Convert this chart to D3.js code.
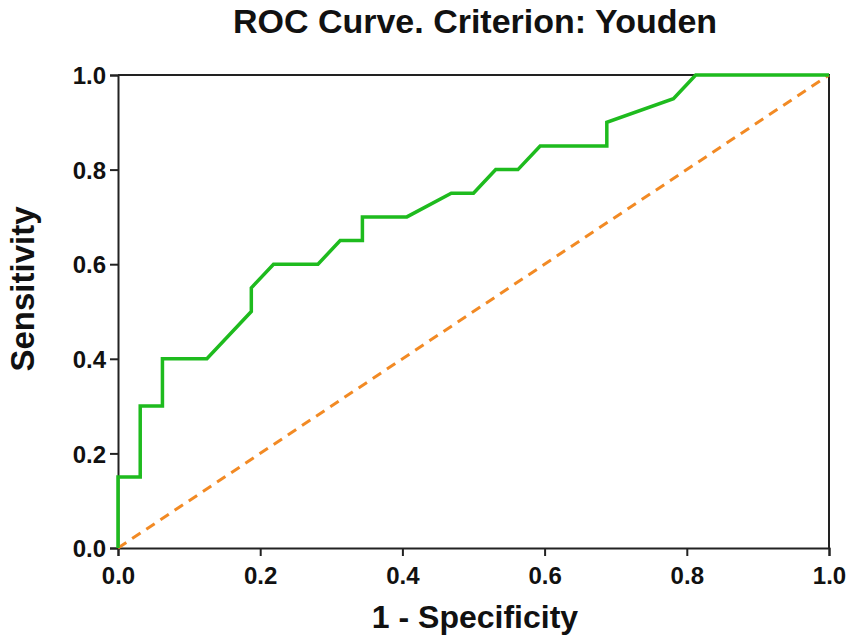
<!DOCTYPE html>
<html lang="en">
<head>
  <meta charset="UTF-8">
  <title>ROC Curve. Criterion: Youden</title>
  <script src="https://d3js.org/d3.v7.min.js"></script>
  <style>
    body
    {
      margin: 0;
      background-color: #fff;
    }

    svg
    {
      font-family: "Liberation Sans", Arial, sans-serif;
      font-weight: bold;
      display: block;
    }
  </style>
</head>
<body>
  <svg width="851" height="644"></svg>
  <script>
    // ROC points: 1 - specificity and sensitivity
    const fpr = [0, 0, 0.03125, 0.03125, 0.0625, 0.0625, 0.125, 0.1875, 0.1875, 0.21875,
      0.28125, 0.3125, 0.34375, 0.34375, 0.40625, 0.46875, 0.5, 0.53125, 0.5625, 0.59375,
      0.6875, 0.6875, 0.78125, 0.8125, 1];
    const tpr = [0, 0.15, 0.15, 0.30, 0.30, 0.40, 0.40, 0.50, 0.55, 0.60,
      0.60, 0.65, 0.65, 0.70, 0.70, 0.75, 0.75, 0.80, 0.80, 0.85,
      0.85, 0.90, 0.95, 1.0, 1.0];
    const refLine = [0, 1];
    const ticks = [0, 0.2, 0.4, 0.6, 0.8, 1.0];

    const margin = { top: 75, right: 22, bottom: 96, left: 118 };
    const width = 851 - margin.left - margin.right;
    const height = 644 - margin.top - margin.bottom;

    const svg = d3.select("svg");
    const g = svg.append("g")
      .attr("transform", `translate(${margin.left},${margin.top})`);

    const x = d3.scaleLinear().domain([0, 1]).range([0, width]);
    const y = d3.scaleLinear().domain([0, 1]).range([height, 0]);

    //frame on top and right
    g.append("path")
      .attr("d", `M0,0H${width}V${height}`)
      .attr("fill", "none")
      .attr("stroke", "#222")
      .attr("stroke-width", 2);

    const xAxis = g.append("g")
      .attr("transform", `translate(0,${height})`)
      .call(d3.axisBottom(x).tickValues(ticks).tickFormat(d3.format(".1f")).tickSize(8).tickPadding(11));

    const yAxis = g.append("g")
      .call(d3.axisLeft(y).tickValues(ticks).tickFormat(d3.format(".1f")).tickSize(8).tickPadding(4));

    [xAxis, yAxis].forEach(a => {
      a.select(".domain").attr("stroke", "#222").attr("stroke-width", 2);
      a.selectAll(".tick line").attr("stroke", "#222").attr("stroke-width", 2);
      a.selectAll(".tick text")
        .attr("fill", "#111")
        .style("font-size", "24px")
        .style("font-weight", "bold")
        .style("font-family", "'Liberation Sans', Arial, sans-serif");
    });
    yAxis.selectAll(".tick text").attr("dy", "0.36em");

    //chance line
    g.append("path")
      .datum(refLine)
      .attr("d", d3.line().x(d => x(d)).y(d => y(d)))
      .attr("fill", "none")
      .attr("stroke", "#F28A24")
      .attr("stroke-width", 3)
      .attr("stroke-dasharray", "10,7");

    //roc curve
    g.append("path")
      .datum(d3.range(fpr.length))
      .attr("d", d3.line().x(i => x(fpr[i])).y(i => y(tpr[i])))
      .attr("fill", "none")
      .attr("stroke", "#1EBB1E")
      .attr("stroke-width", 3.5)
      .attr("stroke-linejoin", "miter");

    svg.append("text")
      .attr("x", 475)
      .attr("y", 33)
      .attr("text-anchor", "middle")
      .attr("fill", "#111")
      .style("font-size", "34px")
      .text("ROC Curve. Criterion: Youden");

    svg.append("text")
      .attr("x", 475)
      .attr("y", 628)
      .attr("text-anchor", "middle")
      .attr("fill", "#111")
      .style("font-size", "32px")
      .text("1 - Specificity");

    svg.append("text")
      .attr("transform", "translate(34,289) rotate(-90)")
      .attr("text-anchor", "middle")
      .attr("fill", "#111")
      .style("font-size", "33px")
      .text("Sensitivity");
  </script>
</body>
</html>
